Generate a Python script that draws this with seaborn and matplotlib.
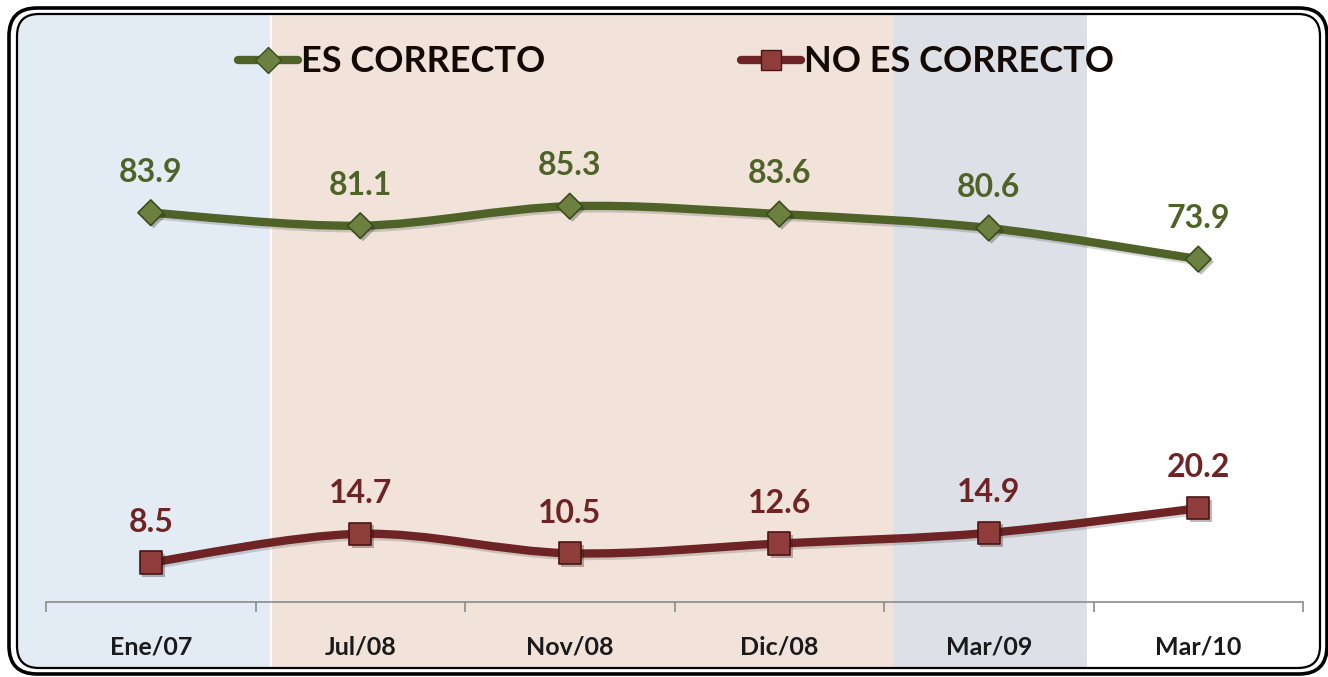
import numpy as np
import pandas as pd
import matplotlib
matplotlib.use("Agg")
import matplotlib.pyplot as plt
import matplotlib.transforms as mtransforms
from matplotlib.patches import FancyBboxPatch, Rectangle, PathPatch
from matplotlib.path import Path
from matplotlib.lines import Line2D
import matplotlib.patheffects as pe
import seaborn as sns

# data
periodos = ['Ene/07', 'Jul/08', 'Nov/08', 'Dic/08', 'Mar/09', 'Mar/10']
es_correcto = [83.9, 81.1, 85.3, 83.6, 80.6, 73.9]
no_es_correcto = [8.5, 14.7, 10.5, 12.6, 14.9, 20.2]
series = ['ES CORRECTO', 'NO ES CORRECTO']

# background bands (in category units) and colours
band_edges = [-1.0, 0.573, 3.545, 4.47]
band_colors = ['#E3EBF5', '#F1E3DA', '#DDE1E7']

verde = '#4F6228'
rojo = '#6E2424'
colores = {'ES CORRECTO': verde, 'NO ES CORRECTO': rojo}

sns.set_theme(style="white")
plt.rcParams['font.family'] = ['Lato', 'DejaVu Sans']
plt.rcParams['font.weight'] = 'bold'

df = pd.DataFrame({
    'pos': list(range(len(periodos))) * 2,
    'valor': es_correcto + no_es_correcto,
    'serie': [series[0]] * len(periodos) + [series[1]] * len(periodos),
})

W, H = 13.28, 6.77
fig = plt.figure(figsize=(W, H), dpi=100)
fig.patch.set_facecolor('white')
ax = fig.add_axes([46 / 1328, (677 - 602) / 677, 1257 / 1328, 580 / 677])
ax.set_facecolor('none')
ax.set_xlim(-0.5, 5.5)
ax.set_ylim(0, 125)


def px(v):
    return v / 100.0


# double rounded frame (pixel units -> inches)
inner = FancyBboxPatch((px(17), px(677 - 668)), px(1320 - 17), px(668 - 14),
                       boxstyle="round,pad=0,rounding_size=0.22",
                       transform=fig.dpi_scale_trans, fill=False,
                       edgecolor='black', linewidth=1.6, zorder=5)
outer = FancyBboxPatch((px(9), px(677 - 674)), px(1327 - 9), px(674 - 8),
                       boxstyle="round,pad=0,rounding_size=0.28",
                       transform=fig.dpi_scale_trans, fill=False,
                       edgecolor='black', linewidth=2.6, zorder=5)
fig.add_artist(inner)
fig.add_artist(outer)

# bands clipped to the inner frame
blend = mtransforms.blended_transform_factory(ax.transData, fig.dpi_scale_trans)
for i, c in enumerate(band_colors):
    r = Rectangle((band_edges[i], 0), band_edges[i + 1] - band_edges[i], H,
                  transform=blend, facecolor=c, edgecolor='none', zorder=-2)
    r.set_clip_path(inner)
    fig.add_artist(r)
fig.add_artist(Line2D([band_edges[1]] * 2, [px(9), px(668)], transform=blend,
                      color='white', lw=1.2, zorder=-1))


def curva(xs, ys):
    pts = np.column_stack([xs, ys])
    verts = [pts[0]]
    codes = [Path.MOVETO]
    n = len(pts)
    for i in range(n - 1):
        p0 = pts[max(i - 1, 0)]
        p1 = pts[i]
        p2 = pts[i + 1]
        p3 = pts[min(i + 2, n - 1)]
        c1 = p1 + (p2 - p0) / 6.0
        c2 = p2 - (p3 - p1) / 6.0
        verts += [c1, c2, p2]
        codes += [Path.CURVE4] * 3
    return Path(verts, codes)


sombra = [pe.SimpleLineShadow(offset=(1.2, -1.8), alpha=0.18), pe.Normal()]
for s in series:
    d = df[df.serie == s]
    ax.add_patch(PathPatch(curva(d.pos.values, d.valor.values), fill=False,
                           edgecolor=colores[s], linewidth=6, capstyle='round',
                           zorder=3, path_effects=sombra))

marcas = {'ES CORRECTO': 'D', 'NO ES CORRECTO': 's'}
caras = {'ES CORRECTO': '#6C8040', 'NO ES CORRECTO': '#8E3D3B'}
bordes = {'ES CORRECTO': '#3C4C1C', 'NO ES CORRECTO': '#4A1515'}
tamanos = {'ES CORRECTO': 170, 'NO ES CORRECTO': 260}
for s in series:
    d = df[df.serie == s]
    sns.scatterplot(data=d, x='pos', y='valor', marker=marcas[s], s=tamanos[s],
                    color=caras[s], edgecolor=bordes[s], linewidth=1.2,
                    ax=ax, zorder=4, legend=False)
    for x, y in zip(d.pos, d.valor):
        ax.annotate(f'{y:.1f}', (x, y), xytext=(0, 29), textcoords='offset points',
                    ha='center', va='center', fontsize=23, fontweight='bold',
                    color=colores[s], zorder=6)
for coll in ax.collections:
    coll.set_path_effects([pe.SimplePatchShadow(offset=(2, -2), alpha=0.3), pe.Normal()])

# axis
sns.despine(ax=ax, left=True)
ax.spines['bottom'].set_color('#8C8C8C')
ax.spines['bottom'].set_linewidth(1.2)
ax.set_yticks([])
ax.set_xticks(range(len(periodos)))
ax.set_xticklabels(periodos, fontsize=18, fontweight='bold', color='#1A1A1A')
ax.set_xticks(np.arange(-0.5, len(periodos), 1.0), minor=True)
ax.tick_params(axis='x', which='major', length=0, pad=24)
ax.tick_params(axis='x', which='minor', length=7, width=1.2, color='#8C8C8C',
               direction='out', bottom=True)
ax.set_xlabel('')
ax.set_ylabel('')

# legend
handles = [Line2D([], [], color=colores[s], lw=6, marker=marcas[s],
                  markersize=13 if s == series[0] else 14, markerfacecolor=caras[s],
                  markeredgecolor=bordes[s], solid_capstyle='round') for s in series]
fig.legend(handles, series, loc='center', bbox_to_anchor=(676 / 1328, 1 - 62 / 677),
           ncol=2, frameon=False, handlelength=1.66, handletextpad=0.1,
           columnspacing=5.4, prop={'size': 26, 'weight': 'bold'},
           labelcolor='#140A05')

fig.savefig('out.png', dpi=100)
